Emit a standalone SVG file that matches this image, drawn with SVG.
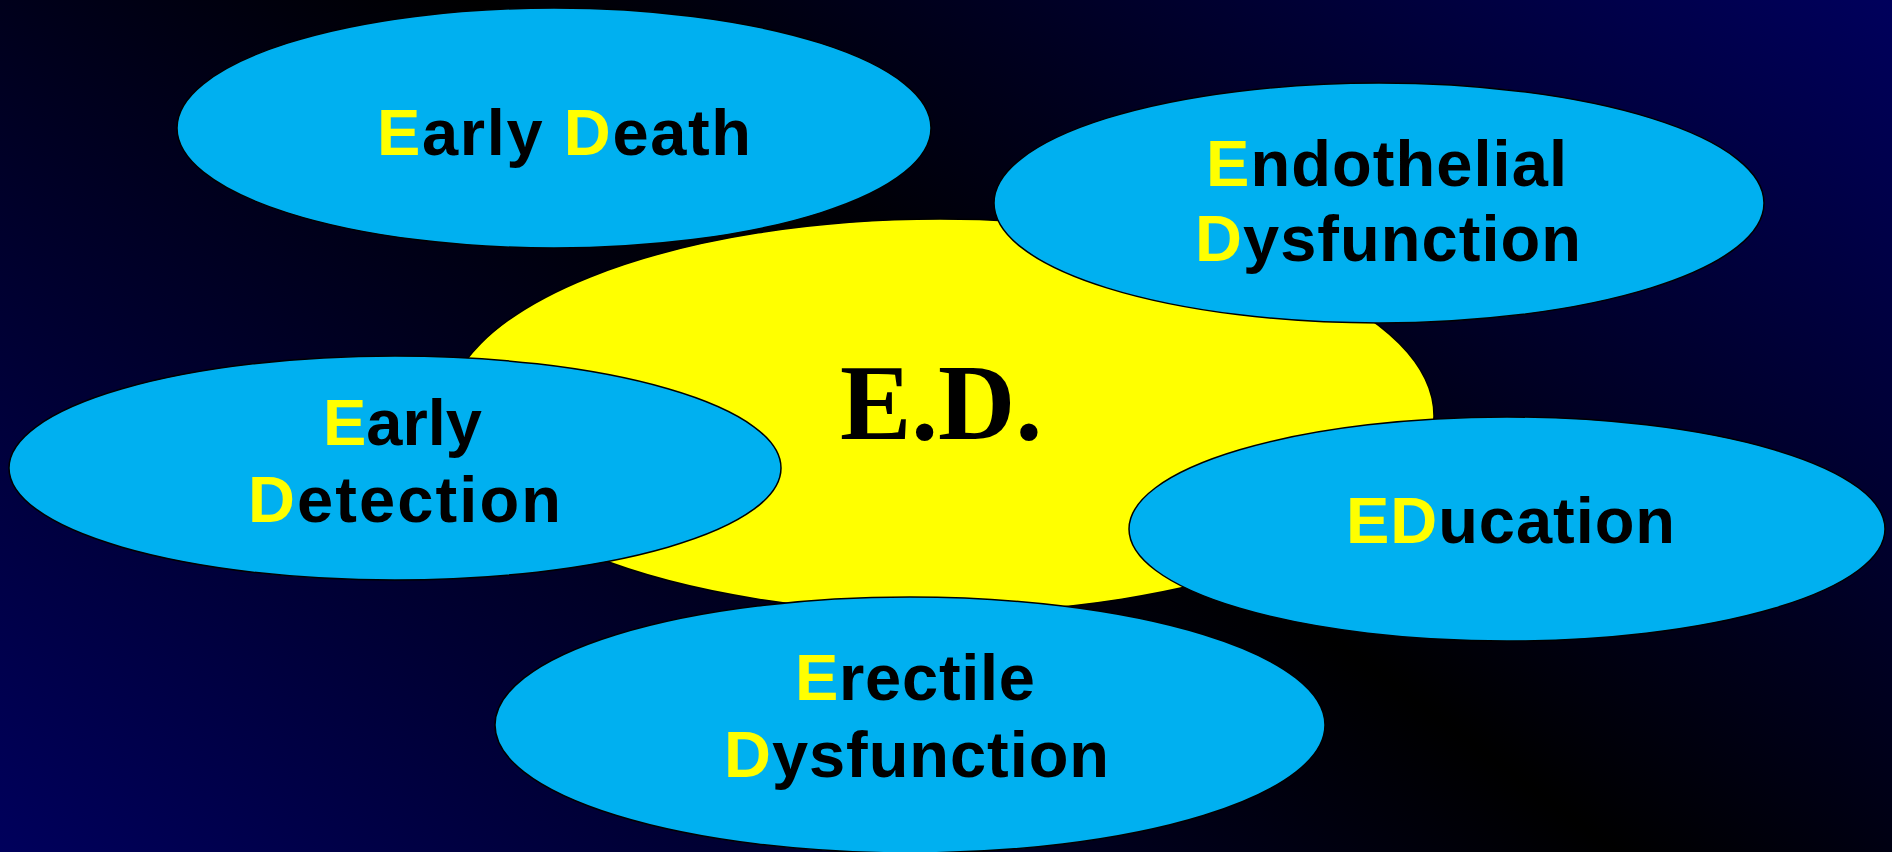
<svg xmlns="http://www.w3.org/2000/svg" width="1892" height="852" viewBox="0 0 1892 852">
  <defs>
    <linearGradient id="bg" gradientUnits="userSpaceOnUse" x1="-409" y1="546" x2="681" y2="-908">
      <stop offset="0" stop-color="#00005c"/>
      <stop offset="0.534" stop-color="#000000"/>
      <stop offset="1" stop-color="#00005c"/>
    </linearGradient>
  </defs>
  <style>
    .blob { fill: #00b0f0; stroke: #000000; stroke-width: 1.5; }
    .core { fill: #ffff00; stroke: #000000; stroke-width: 1.5; }
    .lbl { font-family: "Liberation Sans", Arial, sans-serif; font-weight: bold; font-size: 65px; fill: #000000; }
    .hi { fill: #ffff00; }
    .big { font-family: "Liberation Serif", "Times New Roman", serif; font-weight: bold; font-size: 107px; fill: #000000; }
  </style>
  <rect x="0" y="0" width="1892" height="852" fill="url(#bg)"/>

  <g id="early-death">
    <ellipse class="blob" cx="554" cy="128" rx="377" ry="120"/>
    <text class="lbl" x="377" y="155" textLength="374"><tspan class="hi">E</tspan>arly <tspan class="hi">D</tspan>eath</text>
  </g>

  <g id="ed-core">
    <ellipse class="core" cx="940" cy="416" rx="494" ry="197"/>
    <text class="big" x="840" y="439">E.D.</text>
  </g>

  <g id="endothelial">
    <ellipse class="blob" cx="1379" cy="203" rx="385" ry="120"/>
    <text class="lbl" x="1206" y="186" textLength="361"><tspan class="hi">E</tspan>ndothelial</text>
    <text class="lbl" x="1195" y="261" textLength="386"><tspan class="hi">D</tspan>ysfunction</text>
  </g>

  <g id="early-detection">
    <ellipse class="blob" cx="395" cy="468" rx="386" ry="112"/>
    <text class="lbl" x="323" y="445"><tspan class="hi">E</tspan>arly</text>
    <text class="lbl" x="248" y="522" textLength="313"><tspan class="hi">D</tspan>etection</text>
  </g>

  <g id="education">
    <ellipse class="blob" cx="1507" cy="529" rx="378" ry="112"/>
    <text class="lbl" x="1346" y="543" textLength="329"><tspan class="hi">ED</tspan>ucation</text>
  </g>

  <g id="erectile">
    <ellipse class="blob" cx="910" cy="725" rx="415" ry="128"/>
    <text class="lbl" x="795" y="700" textLength="240"><tspan class="hi">E</tspan>rectile</text>
    <text class="lbl" x="724" y="777" textLength="385"><tspan class="hi">D</tspan>ysfunction</text>
  </g>

  <g id="connectors"/>
</svg>
